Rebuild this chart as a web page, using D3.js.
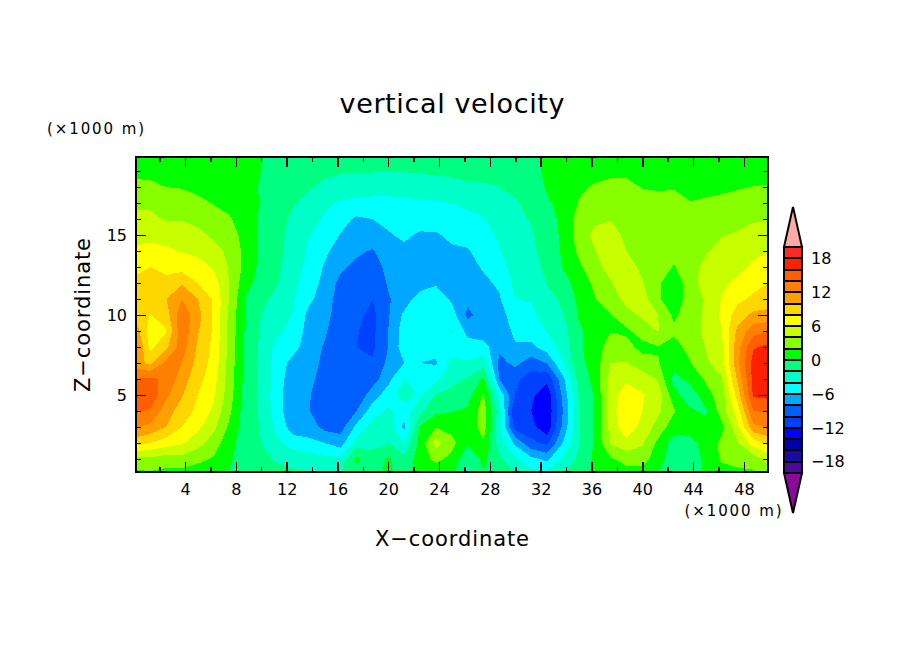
<!DOCTYPE html>
<html lang="en">
<head>
<meta charset="UTF-8">
<title>vertical velocity</title>
<style>
    body { margin: 0; background: #fff; }
    svg { display: block; }
    text { font-family: "DejaVu Sans", sans-serif; fill: #000; }
    .band { shape-rendering: crispEdges; }
</style>
<script src="https://cdnjs.cloudflare.com/ajax/libs/d3/7.8.5/d3.min.js"></script>
</head>
<body>
<svg id="chart" width="904" height="654"></svg>
<script>
const xGrid = d3.range(0, 50.01, 1.25);
const zGrid = [20,19,18,17,16,15,14,13,12,11,10,9,8,7,6,5,4,3,2,1,0];

// w, one list per x position, z going from 20 down to 0
const wColumns = [
  [.5,1.5,2.5,3.6,4.6,5.6,6.2,7.6,8.3,9,9.8,11.5,13,11,14,15.5,14.3,12.2,9,3,1.5],
  [.5,1.5,2.4,3.5,4.6,5.6,6.5,8,8.7,9,7.9,7,7.5,9.5,14.5,15.5,13.8,11.5,8,3.5,1.5],
  [.5,1.2,2,2.8,3.8,5.3,6.3,7.3,8.7,9.9,9,7.8,9.5,12.5,13.5,12.5,11,10,7,3,1.2],
  [.5,1,1.9,2.9,3.9,4.9,5.9,7.2,9.8,12,13.5,13.5,13,12,11,10.2,9,8,6.3,3.3,1],
  [.3,.8,1.5,2.5,3.5,4.5,5.5,6.8,8,10,10.7,10.2,9.7,9.3,8.7,8,7.6,6.5,4.8,2.5,.8],
  [.2,.6,1,1.9,2.9,3.7,4.6,5.8,7,7.7,7.8,7.7,7.5,7.3,6.8,6.3,5.6,4.5,3,1.8,.5],
  [.1,.4,.8,1.4,2.2,3,3.6,3.8,3.9,3.9,3.5,3.4,3.3,3.2,3,2.9,2.4,1.6,.8,.3,-.2],
  [.3,.6,.7,.9,1,1.2,1.4,1.4,.8,0,-.1,-.2,-.3,-.5,-.6,-.8,-1,-1.1,-1.2,-1.2,-1.3],
  [0,0,-.2,-.1,-.3,-.4,-.5,-.6,-1,-1.5,-2,-2.3,-2.4,-2.5,-2.4,-2.4,-2.3,-2.1,-2,-1.6,-1.3],
  [-.5,-.6,-.8,-1,-1.2,-1.4,-1.5,-1.6,-1.9,-2.6,-3.1,-3.6,-4.6,-5,-5,-5.2,-5,-4.6,-3.5,-2.2,-1.4],
  [-.7,-.9,-1.2,-1.8,-2.4,-2.6,-2.8,-3,-3.5,-3.8,-4.1,-4.6,-5.3,-6.6,-7.2,-7.5,-7.6,-7,-5,-2.6,-1.6],
  [-.8,-1.2,-1.8,-2.5,-3.1,-3.9,-4.3,-4.6,-5,-5.6,-6.5,-6.8,-7,-6.6,-7.2,-7.8,-7.9,-7,-5.5,-3,-1.8],
  [-.9,-1.6,-2.4,-3.6,-4.3,-4.8,-5.6,-6.2,-6.6,-6.9,-7.2,-7.7,-8.2,-8.8,-9.3,-9.5,-9.3,-8.6,-6,-3.5,-1.9],
  [-1,-1.8,-2.9,-4.2,-5.3,-6.1,-7,-7.6,-8.6,-9,-9.2,-9.6,-9.8,-10,-10,-9.8,-9.5,-8.8,-7,-3.6,-1.8],
  [-1,-1.9,-3,-4.5,-6.3,-7,-7.6,-8.5,-9,-9.1,-9.4,-9.9,-10,-9.9,-9.8,-9.5,-8,-5.5,-3,.5,-1],
  [-1,-1.9,-3,-4.7,-6,-6.6,-8.2,-9,-9.4,-10,-10.6,-10.5,-10.4,-9.8,-9,-7,-5,-3.2,-2.5,-1.4,-.5],
  [-1,-1.9,-3.2,-4.6,-5.5,-6.2,-6.7,-7.4,-7.8,-8.2,-8.2,-8,-8,-7.5,-6.6,-5,-3.6,-3,-2,.3,.4],
  [-.9,-1.9,-3.2,-4.4,-5.2,-5.6,-6.5,-6.9,-7.2,-7,-5.6,-5,-4.9,-6,-3.9,-3,-5,-6.5,-4,-1.5,-.8],
  [-.8,-1.8,-3,-4.3,-5,-6.3,-7,-7.2,-7,-5,-4.6,-4.4,-5.1,-6,-5.5,-4.2,-2.5,.2,.8,1,.8],
  [-.7,-1.7,-2.8,-4.2,-5.2,-6.2,-7,-7.3,-6.2,-5,-4.6,-4.4,-5.5,-6.2,-4.5,-1.8,-.5,1.9,4.8,2.5,.5],
  [-.6,-1.5,-2.8,-4,-5,-5.6,-6.3,-7.2,-7.2,-6.3,-5,-3.8,-4.7,-3.5,-2.6,-1.5,-.1,1.4,2.6,1.5,.5],
  [-.7,-1.2,-2.4,-3.5,-4.6,-5.2,-6.2,-6.6,-7,-7.5,-8.5,-6.7,-5,-3.8,-1.8,-.8,.3,.5,.3,-1.8,-2.6],
  [-.6,-1.2,-2.3,-3.2,-4.1,-4.6,-5,-5.8,-6.4,-7,-7.1,-7.2,-5.2,-3,.3,2.2,3,3,1.8,.5,-.2],
  [-.5,-1,-2,-2.5,-3.1,-3.7,-4.2,-5,-5.7,-6.2,-6.9,-7.4,-7.5,-8.6,-8,-4.5,-3,-3.5,-3,-1.5,-.5],
  [-.4,-.8,-1.6,-2.2,-2.3,-2.3,-2.1,-2.8,-3.5,-4,-4.8,-5.5,-6.2,-7.5,-9.5,-10,-12,-10.8,-6.5,-3.5,-2],
  [-.3,-.5,-1,-1.5,-1.9,-2.2,-2.4,-2.7,-3.5,-3.9,-4.3,-5,-6.5,-9,-11,-11.5,-12,-11.3,-9.5,-5.5,-3],
  [.3,.3,.2,-.3,-.8,-1.1,-1.3,-1.6,-1.9,-2.7,-3.4,-3.9,-5,-7.9,-11.5,-13.5,-13.6,-13.5,-10.5,-6.5,-3.2],
  [.8,.9,.9,.7,.5,.4,.3,.1,-.9,-1.6,-2.1,-2.8,-3.3,-4.1,-6.6,-7.5,-8,-7.5,-6,-3.5,-2],
  [1,1.2,1.7,2.1,2.8,2.9,2.4,1.6,.9,.5,.1,-.2,-.3,-.6,-1.3,-2,-2.2,-2.2,-2.2,-1.6,-1.2],
  [1,1.4,2.2,2.8,3.6,4.5,3.9,3.2,2.4,1.9,1,.5,.9,.9,.6,.2,.2,.3,.3,.3,.2],
  [.9,1.5,2.6,3.2,3.9,5,5.2,4.9,3.8,3.1,1.9,1.9,3,4,4.8,5,5,4.7,4.1,1.8,.7],
  [.9,1.5,2.6,3.4,3.8,3.5,4,5,5.4,4.6,3.4,1.6,2.8,4.1,5.6,7.3,7.7,7.6,5.4,2.7,1],
  [.8,1.1,1.9,2.9,3.3,3.5,3.4,3.5,4.2,5,4.3,3,1.3,3,5,6.2,6,5.3,4.3,2.8,1],
  [.7,.9,1.8,2.6,3.1,3.3,3.1,2.7,2.3,2.3,4,4.1,1.9,2.1,3.8,5,4.4,3.3,1.5,1,-.2],
  [.7,.9,1.9,2.5,2.9,3,2.5,1.9,.8,.7,1.6,2.4,1.3,1,-.8,.8,2.2,.8,-.9,-1.4,-1.5],
  [.6,.8,1.3,2.1,2.9,3.1,3,3,3,3,3.1,3.2,2.6,1.9,.6,-1.2,.3,.8,-.6,-1.3,-1.2],
  [.5,.8,1.2,2.4,3,3.3,3.8,4.7,5,4.2,4.3,4.4,4.1,3.7,2.3,1.2,-.3,.6,.7,.5,.3],
  [.3,.4,1.6,2.5,3.1,3.9,4.7,5.3,5.6,6.1,6.3,6,5.4,5,3.8,3,2.9,1.5,2.4,2.3,1],
  [.3,.7,1.8,2.9,3.5,4.2,4.6,5.5,6.4,7.5,9,10.5,11.3,11.5,10.3,8.8,7,5.5,3.8,2.9,1.2],
  [.2,.7,2.1,3.1,3.7,4.9,5.6,6.3,7.3,8.4,10.5,13.2,15.8,16.8,16.7,16.3,14,11.5,7,3,1.5],
  [.3,.8,2.2,3.3,4,5,6,7,8.1,9.2,10.5,14,16.5,17.5,17.5,16.6,14.2,12.2,8.5,5,3]
];

// band edges and the colour of the band sitting above each edge
const levels = d3.range(-20, 20, 2);
const bandColors = ["#4b0a9b","#1a0aa0","#0000a8","#0000ff","#0040ff","#0060ff","#00a8ff","#00ffff",
    "#00ffc8","#00ff80","#00ff00","#88ff00","#c8ff00","#ffff00","#ffd700","#ffa000","#ff8000","#ff5f00","#ff2000","#ff2828"];
const overColor = "#ffa8a8";
const underColor = "#8b0a9b";

const xMajor = [4,8,12,16,20,24,28,32,36,40,44,48];
const xMinor = d3.range(2, 50, 2);
const zMajor = [5,10,15];
const zMinor = d3.range(1, 20, 1);
const legendLabels = [18,12,6,0,-6,-12,-18];

const svg = d3.select("#chart");
const minus = s => String(s).replace("-", "\u2212");

// 4 km is 51 px wide here, ticks land on the same pixels as the reference
const x = d3.scaleLinear().domain([0.14, 49.9]).range([136, 768]);
const z = d3.scaleLinear().domain([0.19, 19.88]).range([472, 157]);
const legendY = d3.scaleLinear().domain([-20, 20]).range([473, 247]);
const legendX = d3.scaleLinear().domain([0, 1]).range([784, 802]);

svg.append("clipPath").attr("id", "plot-clip").append("rect")
    .attr("x", x.range()[0]).attr("y", z.range()[1])
    .attr("width", x.range()[1] - x.range()[0]).attr("height", z.range()[0] - z.range()[1]);

// flatten to the row order d3.contours wants
const flat = [];
zGrid.forEach((_, r) => xGrid.forEach((_, c) => flat.push(wColumns[c][r])));

const contours = d3.contours().size([xGrid.length, zGrid.length]).thresholds(levels)(flat);

const proj = d3.geoTransform({
    point(px, py) {
        this.stream.point(x((px - 0.5) * 1.25), z(20 - (py - 0.5)));
    }
});
const path = d3.geoPath(proj);

svg.append("g").attr("clip-path", "url(#plot-clip)")
    .selectAll("path").data(contours).join("path")
    .attr("class", "band")
    .attr("d", path)
    .attr("fill", (d, i) => bandColors[i]);

// axes, ticks point inward on all four sides
function tickAxis(axisFn, scale, values, size, pad, fmt) {
    return axisFn(scale).tickValues(values).tickSize(-size).tickPadding(pad).tickFormat(fmt);
}
const none = () => "";
const axes = svg.append("g");
axes.append("g").attr("transform", "translate(0,472)").call(tickAxis(d3.axisBottom, x, xMinor, 5, 12, none));
axes.append("g").attr("transform", "translate(0,472)").call(tickAxis(d3.axisBottom, x, xMajor, 10, 12, d3.format("d")));
axes.append("g").attr("transform", "translate(0,157)").call(tickAxis(d3.axisTop, x, xMinor, 5, 0, none));
axes.append("g").attr("transform", "translate(0,157)").call(tickAxis(d3.axisTop, x, xMajor, 10, 0, none));
axes.append("g").attr("transform", "translate(136,0)").call(tickAxis(d3.axisLeft, z, zMinor, 5, 9, none));
axes.append("g").attr("transform", "translate(136,0)").call(tickAxis(d3.axisLeft, z, zMajor, 10, 9, d3.format("d")));
axes.append("g").attr("transform", "translate(768,0)").call(tickAxis(d3.axisRight, z, zMinor, 5, 0, none));
axes.append("g").attr("transform", "translate(768,0)").call(tickAxis(d3.axisRight, z, zMajor, 10, 0, none));
axes.selectAll(".domain").remove();
axes.selectAll("line").attr("stroke", "#000").attr("stroke-width", 1.5).attr("shape-rendering", "crispEdges");
axes.selectAll("text").attr("font-size", 16).attr("font-family", '"DejaVu Sans", sans-serif');

svg.append("rect")
    .attr("x", 136).attr("y", 157).attr("width", 632).attr("height", 315)
    .attr("fill", "none").attr("stroke", "#000").attr("stroke-width", 2)
    .attr("shape-rendering", "crispEdges");

// colour bar
const legend = svg.append("g");
legend.selectAll("rect").data(levels).join("rect")
    .attr("x", legendX(0)).attr("width", legendX(1) - legendX(0))
    .attr("y", d => legendY(d + 2)).attr("height", d => legendY(d) - legendY(d + 2))
    .attr("fill", (d, i) => bandColors[i])
    .attr("stroke", "#000").attr("stroke-width", 2).attr("shape-rendering", "crispEdges");

const tip = d3.line().x(d => legendX(d[0])).y(d => legendY(d[1]));
legend.append("path")
    .attr("d", tip([[0, 20], [0.5, 27.1], [1, 20]]) + "Z")
    .attr("fill", overColor).attr("stroke", "#000").attr("stroke-width", 2);
legend.append("path")
    .attr("d", tip([[0, -20], [0.5, -27.1], [1, -20]]) + "Z")
    .attr("fill", underColor).attr("stroke", "#000").attr("stroke-width", 2);

legend.selectAll("text").data(legendLabels).join("text")
    .attr("x", 811).attr("y", d => legendY(d)).attr("dy", "0.36em")
    .attr("font-size", 16)
    .text(d => minus(d));

// titles
function label(txt, px, py, size, len, rot) {
    const t = svg.append("text").attr("font-size", size)
        .attr("text-anchor", "middle").attr("textLength", len).attr("lengthAdjust", "spacing").text(txt);
    t.attr("transform", `translate(${px},${py})` + (rot ? ` rotate(${rot})` : ""));
    return t;
}
label("vertical velocity", 452, 113, 27, 225);
label("X\u2212coordinate", 452, 546, 21, 154);
label("Z\u2212coordinate", 90, 315, 21, 154, -90);
label("(\u00d71000 m)", 95.5, 134, 15, 97);
label("(\u00d71000 m)", 733, 516, 15, 97);
</script>
</body>
</html>
